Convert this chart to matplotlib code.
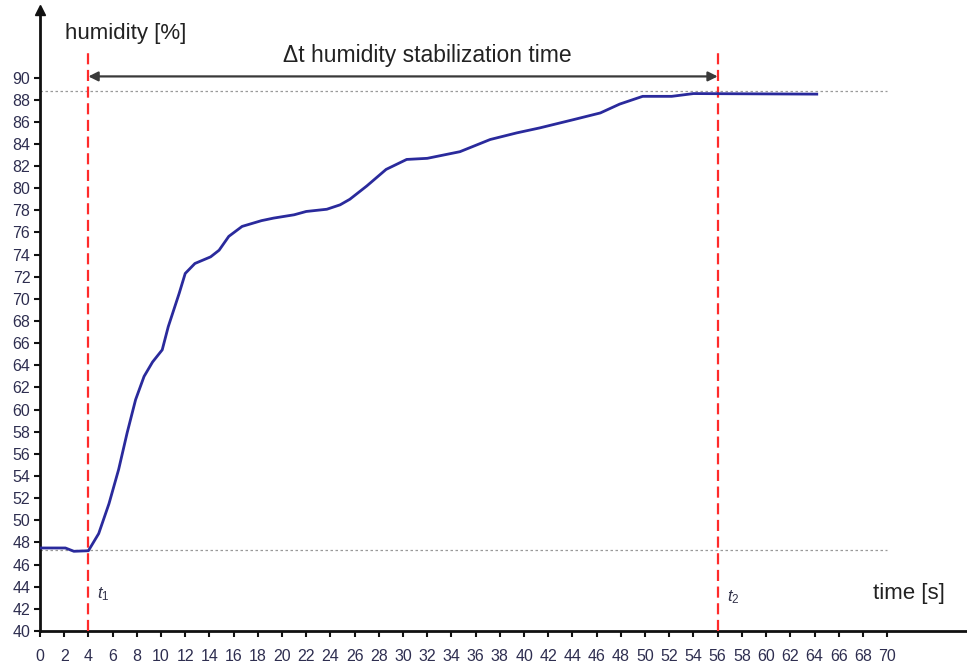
import matplotlib
matplotlib.use("Agg")
import matplotlib.pyplot as plt
import numpy as np

plt.rcParams['font.family'] = ['Liberation Sans', 'DejaVu Sans']
plt.rcParams['mathtext.fontset'] = 'custom'
plt.rcParams['mathtext.it'] = 'Liberation Sans:italic'
plt.rcParams['mathtext.rm'] = 'Liberation Sans'

# data
time_s = [0, 2.1, 2.8, 4.0, 4.85, 5.7, 6.5, 7.2, 7.9, 8.6, 9.3, 10.1, 10.6, 11.5,
          12.0, 12.8, 14.1, 14.8, 15.6, 16.7, 18.3, 19.3, 21.0, 22.0, 23.7, 24.8,
          25.6, 27.0, 28.6, 30.3, 32.0, 34.7, 37.2, 39.4, 41.3, 44.1, 46.3, 47.9,
          49.8, 51.2, 52.2, 54.0, 64.3]
humidity = [47.5, 47.5, 47.2, 47.25, 48.8, 51.5, 54.6, 57.9, 60.9, 63.0, 64.3, 65.4,
            67.5, 70.5, 72.3, 73.2, 73.8, 74.4, 75.65, 76.55, 77.07, 77.3, 77.6, 77.9,
            78.1, 78.5, 79.0, 80.2, 81.7, 82.6, 82.7, 83.3, 84.4, 85.0, 85.45, 86.2,
            86.8, 87.6, 88.3, 88.3, 88.3, 88.55, 88.5]
t1 = 4
t2 = 56
h_low = 47.3
h_high = 88.8
arrow_level = 90.1
x_ticks = list(range(0, 71, 2))
y_ticks = list(range(40, 91, 2))

fig = plt.figure(figsize=(9.67, 6.66), dpi=100)
W, H = 967, 666
ax = fig.add_axes([40 / W, (H - 631) / H, (W - 40) / W, (631 - 10) / H])
ax.set_xlim(0, 76.6)
ax.set_ylim(40, 96.1)

for s in ['top', 'right']:
    ax.spines[s].set_visible(False)
for s in ['left', 'bottom']:
    ax.spines[s].set_linewidth(2.0)
    ax.spines[s].set_color('#111111')

ax.set_xticks(x_ticks)
ax.set_yticks(y_ticks)
ax.tick_params(axis='both', direction='out', length=4, width=1.5, color='#111111',
               labelsize=11.5, labelcolor='#2e2e50', pad=3)
ax.tick_params(axis='x', pad=9)

# y-axis arrow
ax.plot(0, 1, marker='^', color='#111111', ms=7, transform=ax.transAxes, clip_on=False)

# reference dotted lines
ax.plot([0, 70], [h_high, h_high], color='#9a9a9a', lw=0.9, ls=(0, (2, 2)))
ax.plot([0, 70], [h_low, h_low], color='#9a9a9a', lw=0.9, ls=(0, (2, 2)))

# red dashed verticals
for tv in (t1, t2):
    ax.plot([tv, tv], [40, 92.7], color='#ff2b2b', lw=1.6, ls=(0, (5, 2.5)), zorder=3)

# curve
ax.plot(time_s, humidity, color='#2a2a9c', lw=2.0, zorder=4,
        solid_joinstyle='round', solid_capstyle='butt')

# delta-t arrow
ax.annotate('', xy=(t1, arrow_level), xytext=(t2, arrow_level),
            arrowprops=dict(arrowstyle='<|-|>', color='#3a3a3a', lw=1.6,
                            mutation_scale=14, shrinkA=0, shrinkB=0))
ax.text((t1 + t2) / 2 + 2.0, 90.95, 'Δt humidity stabilization time', fontsize=16.5,
        ha='center', va='bottom', color='#222222')

ax.text(2.1, 94.0, 'humidity [%]', fontsize=16, ha='left', va='center', color='#222222')
ax.text(68.8, 43.4, 'time [s]', fontsize=16, ha='left', va='center', color='#222222')
ax.text(t1 + 0.7, 43.3, r'$t_{\mathit{1}}$', fontsize=12, ha='left', va='center', color='#33334a')
ax.text(t2 + 0.8, 43.1, r'$t_{\mathit{2}}$', fontsize=12, ha='left', va='center', color='#33334a')

fig.savefig('out.png', dpi=100)
